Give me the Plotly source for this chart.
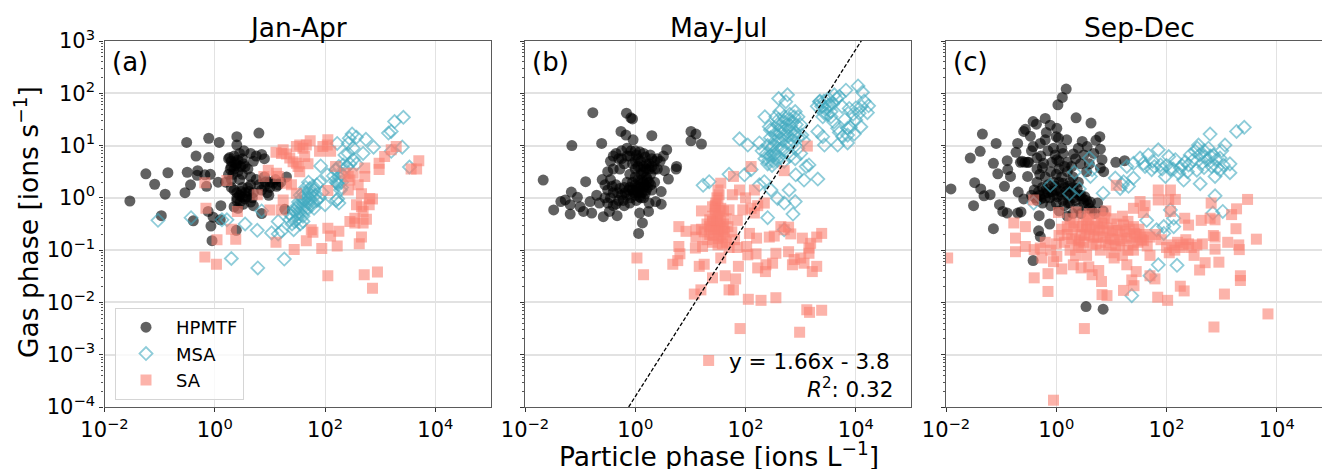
import plotly.graph_objects as go

# All values below are log10(particle phase), log10(gas phase).
a_hpmtf = [(-1.54,-.06),(-1.25,.46),(-1.09,.26),(-.90,.07),(-.85,.48),(-.97,-.34),(-.51,1.06),(-.34,.80),(-.11,1.14),(.08,1.06),(-.11,.77),(-.50,.49),(-.31,.52),(-.32,.43),(-.44,.25),(-.54,.10),(-.39,-.44),(-.18,.44),(-.08,.45),(-.15,.22),(.06,.30),(.20,.30),(.11,-.15),(-.12,-.26),(-.03,-.37),(.10,-.42),(-.07,-.54),(.39,-.62),(-.05,-.82),(.40,1.17),(.40,1.01),(.80,1.24),(.53,.90),(.27,.77),(.25,.75),(.3,.7),(.35,.8),(.4,.65),(.45,.85),(.5,.75),(.55,.6),(.35,.55),(.42,.5),(.5,.45),(.6,.55),(.7,.7),(.75,.8),(.85,.83),(.9,.75),(.65,.85),(.25,.45),(.3,.35),(.45,.35),(.5,.2),(.4,.1),(.35,.15),(.45,.05),(.55,.1),(.6,.2),(.65,.25),(.7,.1),(.55,-.02),(.65,-.08),(.7,-.15),(.4,-.05),(.35,-.17),(.42,-.2),(.85,-.3),(.95,.1),(1.0,.3),(1.1,.35),(1.2,.3),(1.3,.4),(.9,.4),(.8,.25),(.75,.35),(.65,.4),(1.0,.2),(.98,.05),(.85,.15),(1.27,-.22),(1.15,.25),(.3,.2),
 (.3,.6),(.33,.45),(.38,.62),(.42,.72),(.47,.6),(.52,.65),(.28,.55),(.36,.68),(.5,.02),(.48,.12),(.58,.02),(.62,.12),(.68,.0),(.4,.0),(.46,-.08),(.52,-.12),(1.05,.28),(1.12,.22),(.9,.22),(.92,.3)]
a_msa = [(-1.03,-.43),(-.43,-.38),(.13,-.42),(.22,-.42),(.55,-.50),(.77,-.62),(.30,-1.16),(.78,-1.34),(1.26,-1.17),(1.03,-.67),(1.15,-.69),(1.21,-.64),(1.15,-.45),(1.43,-.61),(1.36,-.42),(.85,-.25),(1.4,-.35),(1.45,-.45),(1.5,-.3),(1.55,-.5),(1.5,-.15),(1.55,-.2),(1.6,-.35),(1.6,-.1),(1.65,-.25),(1.65,0),(1.7,-.1),(1.7,.1),(1.75,-.15),(1.75,.05),(1.8,-.2),(1.8,.15),(1.85,-.05),(1.6,.1),(1.55,.05),(1.65,.2),(1.7,.3),(1.85,.25),(1.9,.3),(2.0,-.13),(1.92,.61),(2.04,.44),(2.15,.42),(2.2,.55),(2.25,.6),(2.2,.3),(2.22,.28),(2.24,.25),(2.25,.3),(2.3,.3),(2.2,-.05),(2.25,-.1),(2.28,.15),(2.23,-.02),(2.22,1.04),(2.36,.82),(2.42,.85),(2.51,.73),(2.57,.65),(2.44,1.14),(2.49,1.22),(2.57,1.16),(2.42,1.04),(2.51,.95),(2.69,.85),(2.74,1.12),(2.88,.97),(3.15,1.24),(3.2,1.27),(3.26,1.46),(3.42,1.54),(3.40,.97),(3.2,.89),(3.53,.59),(2.33,.63),(2.2,.53),
 (1.45,-.25),(1.5,-.4),(1.55,-.3),(1.6,-.2),(1.62,-.05),(1.68,-.18),(1.72,-.02),(1.78,-.08),(1.58,.0),(1.65,.08),(1.72,.18),(1.48,-.2),(1.52,-.08),(1.6,-.45),(1.4,-.5),(1.35,-.3),(1.82,.05),(1.9,.0),(1.95,.1),(1.78,.22),(2.25,.4),(2.3,.45),(2.35,.55),(2.4,.6),(2.45,.65),(2.3,.2)]
a_sa = [(-.18,.29),(.22,.33),(-.16,-.20),(.41,-.26),(.30,-.60),(.04,-.80),(.38,-.79),(-.18,-1.13),(.03,-1.27),(.77,.06),(.89,.41),(.97,.53),(1.12,.47),(1.15,.41),(1.0,-.23),(1.21,-.23),(1.24,-.04),(1.30,.28),(1.39,.25),(1.11,.87),(1.24,.92),(1.21,.85),(1.30,.84),(1.36,.76),(1.42,.69),(1.48,.66),(1.51,.60),(1.54,.50),(1.48,.98),(1.54,1.01),(1.60,.95),(1.66,1.01),(1.73,1.09),(1.63,.79),(1.69,.65),(1.90,.89),(1.96,.98),(2.05,1.11),(2.04,1.01),(2.10,.89),(1.48,.09),(2.05,.14),(1.11,-.85),(1.44,-.99),(1.66,-.82),(1.75,-.61),(1.78,-.66),(1.94,-.97),(2.05,-.58),(2.10,-.73),(2.22,-.92),(2.25,-.64),(2.05,-1.49),(2.19,.60),(2.36,.47),(2.42,.41),(2.51,.47),(2.45,.34),(2.72,.57),(2.72,.41),(2.60,.25),(2.42,.15),(2.66,.08),(2.81,-.01),(2.86,-.02),(2.80,-.13),(2.57,-.13),(2.66,-.17),(2.69,-.26),(2.54,-.39),(2.45,-.45),(2.54,-.48),(2.69,-.48),(2.75,-.41),(2.66,-.75),(2.62,-.88),(2.71,-1.47),(2.95,-1.42),(2.86,-1.73),(2.98,.54),(2.98,.66),(3.08,.79),(3.2,.92),(3.29,.98),(3.56,.55),(3.66,.55),(3.70,.71)]

b_hpmtf = [(-1.67,.34),(-1.48,-.23),(-1.35,-.07),(-1.27,-.04),(-1.16,.11),(-1.05,.01),(-1.18,-.13),(-1.18,-.31),(-1.0,-.17),(-.94,-.26),(-.79,-.29),(-.82,-.07),(-.90,.31),(-1.15,1.0),(-.77,1.63),(-.61,1.04),(-.16,1.62),(-.08,1.53),(-.05,1.51),(-.26,1.27),(-.17,1.20),(-.04,1.11),(.30,1.19),(1.01,1.27),(1.10,1.22),(1.01,1.09),(1.20,1.03),(.57,.92),(.51,.80),(.75,.60),(.74,.55),(.53,.52),(.60,.36),(.47,.12),(.47,-.12),(.37,-.07),(.24,-.26),(.08,-.29),(.13,-.48),(.06,-.68),(-.58,-.36),(-.33,-.34),(-.47,-.26),(-.7,.05),(-.65,-.1),(-.6,.35),(-.55,.0),(-.55,.25),(-.5,.5),(-.5,.15),(-.5,-.1),(-.45,.7),(-.45,.35),(-.4,.8),(-.4,.55),(-.4,.1),(-.4,-.15),(-.35,.25),(-.3,.75),(-.3,-.05),(-.25,.05),(-.25,.9),(-.2,.65),(-.2,.2),(-.2,-.15),(-.15,.95),(-.15,.3),(-.15,.05),(-.1,.8),(-.1,.45),(-.1,-.1),(-.05,.15),(-.05,.3),(0,.9),(0,.55),(0,.25),(0,.05),(.05,.75),(.05,.35),(.05,.1),(.1,.7),(.1,.45),(.1,.2),(.15,.85),(.15,.6),(.15,.3),(.15,.0),(.2,.65),(.2,.4),(.2,.15),(.25,.55),(.25,.3),(.25,-.1),(.3,.75),(.3,.15),(.35,.7),(.35,.3),(.4,.75),(.4,.55),(.45,.7),(-.1,.2),(.0,.4),(.1,.0),
 (-.45,.0),(-.42,.22),(-.35,-.12),(-.32,.1),(-.28,.18),(-.22,-.05),(-.18,.1),(-.12,.15),(-.08,.0),(-.02,.1),(.02,.2),(.02,-.05),(.08,.25),(.08,.02),(.12,.35),(.12,.1),(.18,.25),(.18,.08),(.22,.35),(.22,.2),(.28,.45),(.28,.25),(.05,.6),(.1,.55),(.15,.5),(.2,.55),(.25,.65),(.3,.6),(.35,.55),(-.05,.65),(0,.7),(-.35,.85),(-.25,.75),(-.15,.8),(-.08,.9),(.02,.82),(.08,.88),(.18,.78),(.27,.82),(-.28,.55),(.0,.15),(.15,.2)]
b_msa = [(1.23,.24),(1.34,.31),(1.70,.45),(1.89,1.13),(2.04,1.01),(1.98,.44),(2.10,.54),(2.25,.25),(2.40,-.38),(2.86,-.31),(2.70,-.61),(2.90,-.07),(2.70,-.10),(2.58,-.01),(2.79,.15),(2.46,.15),(2.34,.31),(3.31,.36),(3.06,.34),(2.91,.44),(2.35,1.55),(2.6,1.9),(2.76,1.97),(2.73,1.84),(2.43,1.36),(2.25,1.05),(2.3,.9),(2.35,.75),(2.4,.65),(2.45,.8),(2.5,.7),(2.4,1.0),(2.45,1.15),(2.5,1.0),(2.5,1.3),(2.55,1.2),(2.55,.85),(2.6,1.5),(2.6,1.1),(2.65,1.35),(2.65,.95),(2.7,1.55),(2.7,1.2),(2.7,.7),(2.75,1.4),(2.75,1.05),(2.8,1.6),(2.8,1.3),(2.8,.8),(2.85,1.45),(2.85,1.1),(2.9,1.65),(2.9,1.25),(2.9,.75),(2.95,.95),(3.0,1.4),(3.0,.85),(3.1,.6),(3.15,.63),(3.05,1.1),(2.58,.72),(2.45,1.3),(2.55,1.55),(3.3,1.75),(3.35,1.85),(3.4,1.55),(3.45,1.7),(3.5,1.9),(3.55,1.65),(3.6,1.45),(3.65,1.9),(3.7,1.25),(3.8,1.5),(3.85,1.05),(3.85,1.2),(3.9,1.35),(3.82,2.06),(4.04,2.14),(4.12,2.02),(4.23,1.76),(4.21,1.63),(4.06,1.62),(3.88,1.71),(4.09,1.36),(3.97,1.22),(3.76,1.17),(3.67,1.01),(3.43,1.01),(3.31,1.27),(3.40,1.17),(3.67,1.33),(3.85,1.33),(4.0,1.49),(3.52,1.78),(3.34,1.84),(3.61,1.97),(3.70,1.94),(3.43,1.62),(3.55,1.55),
 (2.42,.72),(2.48,.62),(2.52,.82),(2.47,.95),(2.53,1.08),(2.58,.95),(2.6,.78),(2.62,1.25),(2.66,1.12),(2.68,1.45),(2.72,1.3),(2.72,.9),(2.78,1.5),(2.78,1.18),(2.82,1.38),(2.82,1.0),(2.88,1.55),(2.88,1.2),(2.92,1.4),(2.95,1.55),(2.95,1.15),(3.02,1.2),(2.62,1.65),(2.58,1.4),(2.38,.85),(3.38,1.75),(3.42,1.85),(3.5,1.75),(3.58,1.8),(3.48,1.6),(4.1,1.75),(4.0,1.72),(3.95,1.6),(4.15,1.85),(3.75,1.75)]
b_sa = [(.03,-1.15),(.15,-1.47),(.68,-1.27),(.77,-1.2),(.81,-1.07),(.79,-.93),(.79,-.55),(.92,-.64),(1.10,-.61),(1.09,-.96),(1.22,-.93),(1.16,-1.31),(1.25,-1.27),(1.40,-1.53),(1.19,-1.76),(1.07,-1.84),(1.63,-1.49),(1.70,-1.76),(1.78,-1.76),(1.82,-1.55),(1.87,-1.31),(2.05,-1.94),(2.28,-1.96),(2.55,-1.91),(1.90,-2.5),(1.33,-3.11),(2.98,-2.57),(3.11,-2.14),(3.16,-2.19),(3.38,-2.15),(3.38,-.68),(3.29,-.75),(3.18,-.87),(3.15,-.96),(3.03,-.77),(3.15,-1.06),(3.0,-1.15),(3.06,-1.25),(3.29,-1.31),(3.21,-1.41),(2.85,-1.28),(2.88,-1.18),(2.78,-1.03),(2.55,-1.06),(2.49,-1.25),(2.37,-1.28),(2.22,-1.34),(2.36,-1.41),(2.19,-1.07),(2.04,-1.09),(2.02,-.93),(2.07,-.68),(2.2,-.77),(2.43,-.75),(2.52,-.73),(2.64,-.55),(2.78,-.56),(2.82,-.69),(2.70,-.61),(3.12,.99),(2.70,.52),(2.10,.60),(1.78,.41),(2.16,.15),(2.34,-.1),(2.22,-.15),(2.16,-.29),(1.95,-.23),(1.89,.15),(1.76,.06),(1.85,-.43),(1.70,-.23),(1.55,.28),(1.52,.06),(1.46,-.1),(1.40,-.17),(1.20,-.25),(1.3,-.5),(1.35,-.55),(1.4,-.45),(1.45,-.3),(1.5,-.35),(1.55,-.45),(1.6,-.5),(1.65,-.4),(1.45,-.6),(1.5,-.65),(1.55,-.7),(1.6,-.75),(1.65,-.85),(1.35,-.7),(1.3,-.8),(1.4,-.85),(1.5,-.9),(1.75,-.65),(1.8,-.8),(1.85,-.95),(1.7,-.95),(1.55,-1.15),(1.45,-.15),(1.5,-.05),(1.55,-.2),(1.6,-.25),(1.4,-.35),(1.2,-.6),(1.25,-.65),(1.1,-.75),
 (1.42,-.55),(1.48,-.48),(1.52,-.55),(1.58,-.6),(1.62,-.65),(1.38,-.6),(1.42,-.72),(1.5,-.78),(1.58,-.88),(1.48,.0),(1.5,.15),(1.45,-.22),(1.52,-.25),(1.48,-.42),(1.35,-.42),(2.0,.0),(2.1,-.2),(1.68,-.55)]

c_hpmtf = [(-1.91,.17),(-1.56,.76),(-1.38,.89),(-1.34,1.22),(-1.09,1.04),(-1.14,.66),(-1.06,.46),(-.89,.71),(-.88,.54),(-.83,.41),(-1.48,.29),(-1.37,.17),(-1.31,.04),(-1.2,.06),(-1.5,-.15),(-1.03,-.13),(-.97,-.26),(-.89,-.29),(-.94,.22),(-.7,-.29),(-.64,-.27),(-1.14,-.59),(-.12,-.50),(-.32,-.63),(-.29,-.74),(-.42,-1.2),(.54,-2.08),(.85,-2.13),(.18,2.08),(.11,1.92),(.03,1.78),(-.2,1.52),(-.42,1.46),(-.36,1.41),(-.56,1.31),(-.59,1.27),(-.47,1.18),(-.18,1.25),(-.11,1.39),(.01,1.33),(.36,1.53),(.63,1.43),(.79,1.17),(.72,1.1),(.47,1.08),(0,1.17),(-.7,1.04),(-.73,.87),(-.65,.68),(-.57,.68),(-.42,.98),(-.29,1.04),(-.2,1.11),(.04,1.14),(.19,1.11),(-.05,.95),(.1,.95),(.31,.84),(.56,.98),(.8,.93),(.83,.73),(.8,.57),(.86,.5),(1.08,.68),(1.24,.71),(.44,.65),(-.35,.76),(-.23,.66),(.01,.73),(-.52,.41),(-.69,.11),(-.59,-.02),(-.31,-.34),(-.45,.05),(-.4,.15),(-.35,.3),(-.35,-.05),(-.3,.45),(-.3,.05),(-.25,.2),(-.25,-.1),(-.2,.4),(-.2,0),(-.15,.25),(-.15,.1),(-.1,.5),(-.1,-.15),(-.05,.3),(-.05,.05),(0,.45),(0,.15),(0,-.1),(.05,.55),(.05,.3),(.05,-.25),(.1,.4),(.1,.05),(.15,.2),(.15,-.15),(.2,.5),(.2,.05),(.25,.3),(.25,-.1),(.3,.2),(.3,-.3),(.35,.1),(.35,-.05),(.4,.3),(.4,-.2),(.45,.05),(.5,-.1),(.55,-.05),(.6,-.2),(.65,-.25),(.7,-.3),(.75,-.1),(.85,-.25),(.45,-.3),(.3,.4),(.2,-.35),
 (-.38,.0),(-.32,.12),(-.28,-.02),(-.22,.08),(-.18,.18),(-.12,.0),(-.08,.12),(-.02,.22),(.02,.02),(.08,.12),(.12,.28),(.12,-.05),(.18,.12),(.22,.22),(.22,-.1),(.28,.1),(.32,.0),(.38,.18),(.42,.05),(.48,-.02),(.52,.02),(.58,-.12),(.62,-.08),(-.08,.68),(-.02,.82),(.05,.7),(.12,.85),(.2,.68),(.28,.6),(.35,.75),(.5,.82),(.6,.65),(.68,.85),(-.28,.8),(-.15,.9),(-.35,.55),(-.25,.58),(-.5,.68),(-.45,.9),(.4,.95),(.15,.6),(.55,.5),(-.62,.7),(-.52,.68)]
c_msa = [(-.41,-.1),(-.11,.24),(.24,.08),(.42,.17),(.33,.49),(.6,.76),(.65,.54),(.62,.41),(.85,.09),(1.37,-1.87),(1.64,-.43),(1.70,-1.49),(1.85,-1.28),(2.19,-1.29),(1.82,-.61),(1.95,-.55),(2.13,-.39),(2.07,-.23),(1.95,-.68),(2.13,-.55),(2.84,-.29),(2.88,.04),(3.02,-.26),(2.61,.27),(1.07,.38),(1.16,.18),(1.22,.31),(1.31,.22),(1.4,.38),(1.28,.6),(1.4,.66),(1.52,.76),(1.67,.82),(1.61,.6),(1.73,.54),(1.85,.92),(1.89,.63),(2.04,.79),(1.98,.41),(2.07,.54),(2.16,.73),(2.22,.47),(2.31,.34),(2.25,.57),(2.4,.63),(2.43,.82),(2.52,.89),(2.58,1.01),(2.79,1.22),(2.64,.66),(2.7,.79),(2.76,.95),(2.85,.82),(2.88,.41),(2.82,.6),(2.97,.76),(3.06,1.01),(2.97,.53),(3.15,.65),(3.15,.48),(3.03,.63),(3.27,1.27),(3.41,1.35),(2.55,.53),(2.34,.69),(1.58,.66),
 (1.78,.6),(1.92,.55),(2.0,.62),(2.12,.55),(2.28,.62),(2.48,.72),(2.6,.82),(2.68,.9),(2.74,.72),(2.8,.8),(2.9,.72),(2.92,.58),(3.0,.9),(2.56,.95),(2.68,.58),(1.2,.25),(1.75,.7),(2.38,.5)]
c_sa = [(-1.97,-1.15),(-.77,-.48),(-.56,-.55),(-.74,-.77),(-.74,-1.03),(-.56,-.93),(-.41,-.04),(-.4,-1.53),(-.15,-1.45),(-.15,-1.79),(.51,-2.5),(-.05,-3.87),(-.4,-.99),(-.29,-.96),(-.26,-1.15),(.04,-.28),(.36,-.27),(-.05,-1.22),(.1,-1.36),(.01,-1.12),(.31,-1.28),(.45,-1.34),(.59,-1.32),(.65,-1.47),(.77,-1.39),(.82,-1.6),(.83,-1.85),(.92,-1.87),(1.22,-1.77),(1.37,-1.57),(1.41,-1.68),(1.45,-1.41),(1.28,-1.28),(1.70,-1.49),(1.79,-1.55),(1.84,-1.9),(2.02,-1.96),(2.25,-1.69),(2.32,-1.78),(2.6,-1.38),(2.7,-1.24),(2.95,-1.23),(3.05,-1.84),(2.86,-2.47),(3.84,-2.22),(3.34,-1.49),(3.34,-1.58),(3.32,-.99),(3.31,-.9),(3.11,-.85),(2.88,-.98),(2.88,-.75),(2.85,-.72),(3.63,-.79),(3.26,-.59),(3.18,-.32),(3.27,-.21),(3.47,-.03),(2.88,-.42),(2.81,-.1),(2.79,-.39),(2.63,-.43),(2.4,-.52),(2.33,-.39),(1.85,.15),(1.85,-.04),(2.04,-.04),(2.07,.15),(2.16,-.03),(1.09,.24),(1.52,-.07),(1.61,-.15),(1.4,-.2),(1.58,-.28),(2.07,-.26),(.1,-.6),(.15,-.85),(.2,-.7),(.25,-1.0),(.3,-.6),(.35,-.8),(.35,-1.1),(.4,-.55),(.45,-.7),(.45,-.95),(.5,-.35),(.5,-.85),(.55,-.5),(.55,-1.1),(.6,-.3),(.6,-.7),(.65,-.9),(.7,-.4),(.7,-.6),(.75,-.75),(.8,-.3),(.8,-1.0),(.85,-.5),(.9,-.25),(.9,-.85),(.95,-.65),(1.0,-.4),(1.0,-1.05),(1.05,-.8),(1.05,-1.15),(1.1,-.5),(1.15,-.9),(1.2,-.35),(1.2,-1.1),(1.25,-.65),(1.3,-.45),(1.3,-1.0),(1.35,-.75),(1.4,-.55),(1.4,-1.0),(1.45,-.7),(1.5,-.6),(1.55,-.8),(1.6,-.7),(1.7,-.75),(1.7,-1.1),(1.8,-.7),(1.9,-.8),(2.0,-.95),(2.05,-1.05),(2.15,-1.0),(2.2,-.85),(2.3,-.9),(2.35,-.8),(2.45,-.95),(2.5,-1.1),(2.55,-.9),(2.65,-.88),(.25,-.4),(.55,-.6),(.75,-.55),(.95,-.9),(1.15,-.7),(.4,-.9),
 (.2,-.55),(.28,-.78),(.32,-.48),(.42,-.82),(.48,-.55),(.52,-.72),(.58,-.42),(.62,-.55),(.68,-.75),(.72,-.88),(.78,-.62),(.82,-.48),(.85,-.75),(.88,-.38),(.92,-.58),(.98,-.78),(1.02,-.62),(1.08,-.92),(1.12,-.62),(1.18,-.82),(1.22,-.52),(1.28,-.78),(1.32,-.6),(1.38,-.9),(1.42,-.68),(1.48,-.85),(1.52,-.75),(1.58,-.82),(1.65,-.92),(2.1,-.9),(2.25,-.95),(2.4,-.88),(.05,-.72),(.0,-.88),(-.1,-1.0),(-.2,-.85)]

panels = ["Jan-Apr", "May-Jul", "Sep-Dec"]
panel_tags = ["(a)", "(b)", "(c)"]
series_names = ["HPMTF", "MSA", "SA"]
x_tick_exponents = [-2, 0, 2, 4]
y_tick_exponents = [-4, -3, -2, -1, 0, 1, 2, 3]
fit_slope, fit_intercept = 1.66, -3.8
fit_log_x_ends = [-0.12, 4.1]

W, H = 1322, 469
FONT = "DejaVu Sans"
px = lambda v: v / W
py = lambda v: 1 - v / H
x_domains = [(px(104.5), px(490.5)), (px(525), px(911)), (px(946), 1.0)]
x_ranges = [[-2, 5], [-2, 5], [-2, 4.82]]
y_domain = (py(407), py(41))

def unlog(points):
    return [10 ** p[0] for p in points], [10 ** p[1] for p in points]

def tick(e):
    return "10<sup>\u2212%d</sup>" % abs(e) if e < 0 else "10<sup>%d</sup>" % e

def note(text, x, y, size, xanchor="center", **kw):
    fig.add_annotation(text=text, x=x, y=y, xref="paper", yref="paper", xanchor=xanchor, yanchor="middle",
                       showarrow=False, font=dict(family=FONT, size=size, color="black"), **kw)

MSA_C = "rgba(67,170,192,0.6)"
styles = {
    "HPMTF": dict(symbol="circle", size=11, color="rgba(0,0,0,0.62)", line=dict(width=0)),
    "MSA": dict(symbol="diamond-open", size=10, color=MSA_C, line=dict(width=1.8, color=MSA_C)),
    "SA": dict(symbol="square", size=11, color="rgba(250,128,114,0.6)", line=dict(width=0)),
}

fig = go.Figure()
data = [[a_hpmtf, a_msa, a_sa], [b_hpmtf, b_msa, b_sa], [c_hpmtf, c_msa, c_sa]]
for i, group in enumerate(data):
    sfx = "" if i == 0 else str(i + 1)
    for name, pts in zip(series_names, group):
        xs, ys = unlog(pts)
        fig.add_trace(go.Scatter(x=xs, y=ys, mode="markers", name=name, marker=styles[name],
                                 showlegend=(i == 0), xaxis="x" + sfx, yaxis="y" + sfx, cliponaxis=True))
    axis_common = dict(type="log", automargin=False, showline=True, mirror=True, linecolor="#5a5a5a", linewidth=1.4,
                       showgrid=True, gridcolor="#e2e2e2", zeroline=False,
                       ticks="outside", ticklen=4, tickwidth=1, tickcolor="#333333",
                       tickfont=dict(family=FONT, size=21, color="black"))
    fig.update_layout({
        "xaxis" + sfx: dict(axis_common, domain=x_domains[i], range=x_ranges[i], anchor="y" + sfx, gridwidth=1,
                            tickvals=[10.0 ** e for e in x_tick_exponents],
                            ticktext=[tick(e) for e in x_tick_exponents]),
        "yaxis" + sfx: dict(axis_common, domain=y_domain, range=[-4, 3], anchor="x" + sfx, gridwidth=1.5,
                            tickvals=[10.0 ** e for e in y_tick_exponents],
                            ticktext=[tick(e) if i == 0 else "" for e in y_tick_exponents],
                            minor=dict(ticks="outside", ticklen=2, tickwidth=1, tickcolor="#555555",
                                       showgrid=False, dtick="D1")),
    })
    note(panels[i], x_domains[i][0] + 193 / W, py(27), 26.5)
    note(panel_tags[i], x_domains[i][0] + 5 / W, py(62), 26, xanchor="left")

fit_x = [10.0 ** e for e in fit_log_x_ends]
fit_y = [10.0 ** (fit_slope * e + fit_intercept) for e in fit_log_x_ends]
fig.add_trace(go.Scatter(x=fit_x, y=fit_y, mode="lines", showlegend=False, xaxis="x2", yaxis="y2",
                         line=dict(color="black", width=1.3, dash="4px,2px")))

note("y = 1.66x - 3.8", px(892), py(361), 21.5, xanchor="right")
note("<i>R</i><sup>2</sup>: 0.32", px(895), py(388), 21.5, xanchor="right")
note("Particle phase [ions L<sup>\u22121</sup>]", px(719), py(455), 26.5)
note("Gas phase [ions s<sup>\u22121</sup>]", px(27), py(222), 26.5, textangle=-90)

fig.update_layout(
    width=W, height=H, autosize=False, margin=dict(l=0, r=0, t=0, b=0),
    paper_bgcolor="white", plot_bgcolor="white", showlegend=True,
    legend=dict(x=px(115), y=py(308), xanchor="left", yanchor="top", bgcolor="rgba(255,255,255,0.8)",
                bordercolor="#d5d5d5", borderwidth=1, font=dict(family=FONT, size=18, color="black"),
                itemsizing="trace", itemwidth=50, tracegroupgap=0),
)

fig.write_html("out.html", config=dict(displayModeBar=False),
               post_script="document.body.style.margin='0';document.body.style.overflow='hidden';")
